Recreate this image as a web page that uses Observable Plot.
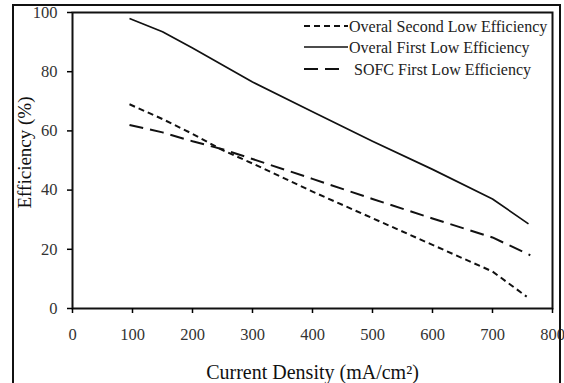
<!DOCTYPE html>
<html>
<head>
<meta charset="utf-8">
<script src="https://cdn.jsdelivr.net/npm/d3@7"></script>
<script src="https://cdn.jsdelivr.net/npm/@observablehq/plot@0.6"></script>
<style>
  html, body { margin: 0; padding: 0; background: #fff; }
  #wrap { position: relative; width: 564px; height: 383px; overflow: hidden; font-family: 'Liberation Serif', 'Times New Roman', 'DejaVu Serif', serif; }
  #wrap svg, #wrap svg text { font-family: 'Liberation Serif', 'Times New Roman', 'DejaVu Serif', serif !important; }
  #border { position: absolute; left: 12px; top: 4px; width: 549px; height: 384px; border: 2px solid #111; box-sizing: border-box; pointer-events: none; }
  #legend { position: absolute; left: 0; top: 0; pointer-events: none; }
  svg [aria-label="x-axis tick label"] text, svg [aria-label="y-axis tick label"] text { fill: #333; }
</style>
</head>
<body>
<div id="wrap"><div id="border"></div></div>
<script>
// Series data (Current Density mA/cm², Efficiency %)
const secondX = [95, 150, 200, 250, 300, 400, 500, 600, 700, 757];
const secondY = [69, 64, 59, 53.5, 49, 39.5, 30.5, 21.5, 12.5, 4];
const firstX = [95, 150, 200, 300, 400, 500, 600, 700, 760];
const firstY = [98, 93.5, 88, 76.5, 66.5, 56.5, 47, 37, 28.6];
const sofcX = [95, 150, 200, 250, 300, 400, 500, 600, 700, 763];
const sofcY = [62, 59.5, 56.5, 53.8, 50.5, 43.8, 37, 30.4, 24, 18];

const seriesNames = ["Overal Second Low Efficiency", "Overal First Low Efficiency", "SOFC First Low Efficiency"];
const xTicks = [0, 100, 200, 300, 400, 500, 600, 700, 800];
const yTicks = [0, 20, 40, 60, 80, 100];
const xLabel = "Current Density (mA/cm²)";
const yLabel = "Efficiency (%)";

const styles = [
  {dash: "6,4", width: 2},
  {dash: null, width: 1.7},
  {dash: "14,7", width: 2}
];

const FONT = "'Liberation Serif', 'Times New Roman', 'DejaVu Serif', serif";
const toRows = (xs, ys) => xs.map((x, i) => ({x, y: ys[i]}));
const seriesData = [toRows(secondX, secondY), toRows(firstX, firstY), toRows(sofcX, sofcY)];

const plot = Plot.plot({
  width: 564,
  height: 383,
  marginLeft: 72,
  marginRight: 12,
  marginTop: 12,
  marginBottom: 75,
  style: {fontFamily: FONT, fontSize: "16px", background: "transparent", overflow: "visible"},
  x: {domain: [0, 800]},
  y: {domain: [0, 100]},
  marks: [
    ...seriesData.map((d, i) => Plot.line(d, {
      x: "x", y: "y", stroke: "#111", strokeWidth: styles[i].width,
      strokeDasharray: styles[i].dash, strokeLinecap: "butt"
    })),
    Plot.frame({stroke: "#111", strokeWidth: 2}),
    Plot.axisX({ticks: xTicks, tickSize: 5, tickPadding: 15, label: null, fontSize: 16.5, strokeWidth: 1.5}),
    Plot.axisY({ticks: yTicks, tickSize: 5, tickPadding: 10, label: null, fontSize: 16.5, strokeWidth: 1.5}),
    Plot.text([xLabel], {frameAnchor: "bottom", textAnchor: "middle", dy: 70, fontSize: 20, fill: "#111"}),
    Plot.text([yLabel], {frameAnchor: "left", textAnchor: "middle", lineAnchor: "middle", dx: -48, dy: -8, rotate: -90, fontSize: 19, fill: "#111"})
  ]
});
document.getElementById("wrap").prepend(plot);

// Legend overlay (built from series names and styles)
const legend = d3.select("#wrap").append("svg")
  .attr("id", "legend").attr("width", 564).attr("height", 383);
const rowY = [26, 47, 69];
const swatch = [[304, 348], [304, 348], [304, 341]];
const textX = [349, 349, 354];
seriesNames.forEach((name, i) => {
  legend.append("line")
    .attr("x1", swatch[i][0]).attr("x2", swatch[i][1])
    .attr("y1", rowY[i]).attr("y2", rowY[i])
    .attr("stroke", "#111").attr("stroke-width", styles[i].width)
    .attr("stroke-dasharray", styles[i].dash);
  legend.append("text")
    .attr("x", textX[i]).attr("y", rowY[i]).attr("dy", "0.35em")
    .style("font-family", FONT)
    .attr("font-size", 16).attr("fill", "#222")
    .text(name);
});
</script>
</body>
</html>
